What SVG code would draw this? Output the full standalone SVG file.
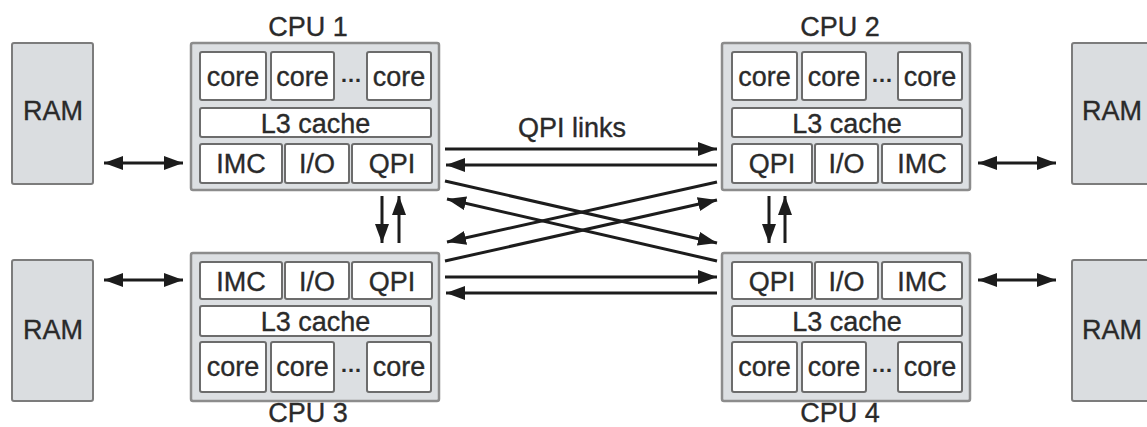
<svg xmlns="http://www.w3.org/2000/svg" width="1147" height="427" viewBox="0 0 1147 427">
  <style>
    .ram { fill: #dadde0; stroke: #7c7c7c; stroke-width: 2; }
    .cpu { fill: #dcdfe2; stroke: #8c8c8c; stroke-width: 2.5; }
    .unit { fill: #ffffff; stroke: #6c6c6c; stroke-width: 2; }
    .t { font-family: "Liberation Sans", Arial, Helvetica, sans-serif; font-size: 27px; fill: #2a2a2a; stroke: #2a2a2a; stroke-width: 0.35; text-anchor: middle; }
    .dots { font-family: "Liberation Sans", Arial, sans-serif; font-size: 22px; font-weight: bold; fill: #2a2a2a; text-anchor: middle; }
    .link { stroke: #1c1c1c; stroke-width: 3; fill: none; marker-end: url(#ah); }
    .both { marker-start: url(#ah); }
  </style>
  <defs>
    <marker id="ah" markerWidth="20" markerHeight="14" refX="19" refY="7" orient="auto-start-reverse" markerUnits="userSpaceOnUse">
      <path d="M0,0 L19,7 L0,14 z" fill="#1c1c1c"/>
    </marker>
  </defs>

  <rect width="1147" height="427" fill="#ffffff"/>

  <!-- memory banks -->
  <g id="ram1">
    <rect class="ram" x="12" y="43" width="81" height="141" rx="2"/>
    <text class="t" x="53" y="120">RAM</text>
  </g>
  <g id="ram2">
    <rect class="ram" x="1072" y="43" width="81" height="141" rx="2"/>
    <text class="t" x="1112" y="120">RAM</text>
  </g>
  <g id="ram3">
    <rect class="ram" x="12" y="260" width="81" height="141" rx="2"/>
    <text class="t" x="53" y="339">RAM</text>
  </g>
  <g id="ram4">
    <rect class="ram" x="1072" y="260" width="81" height="141" rx="2"/>
    <text class="t" x="1112" y="339">RAM</text>
  </g>

  <!-- CPU 1: cores on top, controllers at bottom -->
  <g id="cpu1">
    <text class="t" x="308" y="36">CPU 1</text>
    <rect class="cpu" x="191" y="43" width="248" height="147" rx="2"/>
    <rect class="unit" x="200" y="52" width="66" height="48" rx="2"/>
    <text class="t" x="233" y="86">core</text>
    <rect class="unit" x="271" y="52" width="63" height="48" rx="2"/>
    <text class="t" x="302.5" y="86">core</text>
    <text class="dots" x="351" y="82">…</text>
    <rect class="unit" x="367" y="52" width="64" height="48" rx="2"/>
    <text class="t" x="399" y="86">core</text>
    <rect class="unit" x="200" y="108" width="231" height="29" rx="2"/>
    <text class="t" x="315.5" y="133">L3 cache</text>
    <rect class="unit" x="200" y="144" width="82" height="39" rx="2"/>
    <text class="t" x="241" y="173">IMC</text>
    <rect class="unit" x="285" y="144" width="64" height="39" rx="2"/>
    <text class="t" x="317" y="173">I/O</text>
    <rect class="unit" x="352" y="144" width="80" height="39" rx="2"/>
    <text class="t" x="392" y="173">QPI</text>
  </g>

  <!-- CPU 2 -->
  <g id="cpu2">
    <text class="t" x="840" y="36">CPU 2</text>
    <rect class="cpu" x="722" y="43" width="248" height="147" rx="2"/>
    <rect class="unit" x="732" y="52" width="65" height="48" rx="2"/>
    <text class="t" x="764.5" y="86">core</text>
    <rect class="unit" x="802" y="52" width="64" height="48" rx="2"/>
    <text class="t" x="834" y="86">core</text>
    <text class="dots" x="882" y="82">…</text>
    <rect class="unit" x="898" y="52" width="64" height="48" rx="2"/>
    <text class="t" x="930" y="86">core</text>
    <rect class="unit" x="732" y="108" width="230" height="29" rx="2"/>
    <text class="t" x="847" y="133">L3 cache</text>
    <rect class="unit" x="732" y="144" width="80" height="39" rx="2"/>
    <text class="t" x="772" y="173">QPI</text>
    <rect class="unit" x="815" y="144" width="63" height="39" rx="2"/>
    <text class="t" x="846.5" y="173">I/O</text>
    <rect class="unit" x="882" y="144" width="80" height="39" rx="2"/>
    <text class="t" x="922" y="173">IMC</text>
  </g>

  <!-- CPU 3: controllers on top, cores at bottom -->
  <g id="cpu3">
    <rect class="cpu" x="191" y="253" width="248" height="148" rx="2"/>
    <rect class="unit" x="200" y="262" width="82" height="37" rx="2"/>
    <text class="t" x="241" y="291">IMC</text>
    <rect class="unit" x="285" y="262" width="64" height="37" rx="2"/>
    <text class="t" x="317" y="291">I/O</text>
    <rect class="unit" x="352" y="262" width="80" height="37" rx="2"/>
    <text class="t" x="392" y="291">QPI</text>
    <rect class="unit" x="200" y="306" width="231" height="30" rx="2"/>
    <text class="t" x="315.5" y="331">L3 cache</text>
    <rect class="unit" x="200" y="342" width="66" height="50" rx="2"/>
    <text class="t" x="233" y="376">core</text>
    <rect class="unit" x="271" y="342" width="63" height="50" rx="2"/>
    <text class="t" x="302.5" y="376">core</text>
    <text class="dots" x="351" y="372">…</text>
    <rect class="unit" x="367" y="342" width="64" height="50" rx="2"/>
    <text class="t" x="399" y="376">core</text>
    <text class="t" x="308" y="422">CPU 3</text>
  </g>

  <!-- CPU 4 -->
  <g id="cpu4">
    <rect class="cpu" x="722" y="253" width="248" height="148" rx="2"/>
    <rect class="unit" x="732" y="262" width="80" height="37" rx="2"/>
    <text class="t" x="772" y="291">QPI</text>
    <rect class="unit" x="815" y="262" width="63" height="37" rx="2"/>
    <text class="t" x="846.5" y="291">I/O</text>
    <rect class="unit" x="882" y="262" width="80" height="37" rx="2"/>
    <text class="t" x="922" y="291">IMC</text>
    <rect class="unit" x="732" y="306" width="230" height="30" rx="2"/>
    <text class="t" x="847" y="331">L3 cache</text>
    <rect class="unit" x="732" y="342" width="65" height="50" rx="2"/>
    <text class="t" x="764.5" y="376">core</text>
    <rect class="unit" x="802" y="342" width="64" height="50" rx="2"/>
    <text class="t" x="834" y="376">core</text>
    <text class="dots" x="882" y="372">…</text>
    <rect class="unit" x="898" y="342" width="64" height="50" rx="2"/>
    <text class="t" x="930" y="376">core</text>
    <text class="t" x="840" y="422">CPU 4</text>
  </g>

  <g id="qpi-label">
    <text class="t" x="572" y="137">QPI links</text>
  </g>

  <!-- interconnects -->
  <g id="connectors">
    <!-- memory buses -->
    <line class="link both" x1="104" y1="163" x2="183" y2="163"/>
    <line class="link both" x1="104" y1="280" x2="183" y2="280"/>
    <line class="link both" x1="978" y1="163" x2="1056" y2="163"/>
    <line class="link both" x1="978" y1="280" x2="1056" y2="280"/>
    <!-- CPU1 <-> CPU2 -->
    <line class="link" x1="445" y1="149" x2="717" y2="149"/>
    <line class="link" x1="717" y1="165" x2="446" y2="165"/>
    <!-- CPU3 <-> CPU4 -->
    <line class="link" x1="445" y1="277" x2="717" y2="277"/>
    <line class="link" x1="717" y1="293" x2="446" y2="293"/>
    <!-- diagonals -->
    <line class="link" x1="445" y1="181" x2="717" y2="243"/>
    <line class="link" x1="717" y1="261" x2="447" y2="199"/>
    <line class="link" x1="717" y1="182" x2="447" y2="242"/>
    <line class="link" x1="445" y1="261" x2="717" y2="200"/>
    <!-- CPU1 <-> CPU3 -->
    <line class="link" x1="382" y1="196" x2="382" y2="243"/>
    <line class="link" x1="399" y1="243" x2="399" y2="196"/>
    <!-- CPU2 <-> CPU4 -->
    <line class="link" x1="769" y1="196" x2="769" y2="243"/>
    <line class="link" x1="785" y1="243" x2="785" y2="196"/>
  </g>
</svg>
